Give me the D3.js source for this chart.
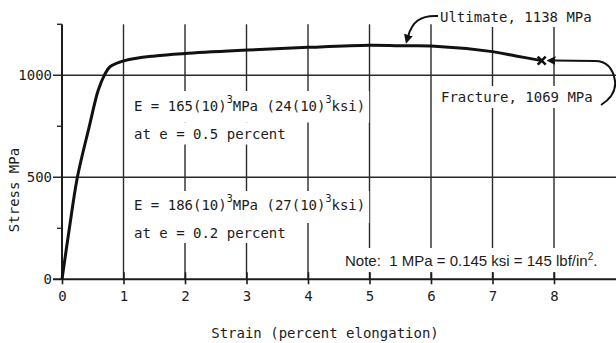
<!DOCTYPE html>
<meta charset="utf-8">
<style>
body { margin: 0; background: #fff; overflow: hidden; }
text { font-family: "DejaVu Sans Mono", monospace; font-size: 14px; fill: #1c1c1c; }
.grid { stroke: #2a2a2a; stroke-width: 1.4px; }
.axisline { stroke: #1c1c1c; stroke-width: 2px; }
.curve { fill: none; stroke: #111; stroke-width: 3px; stroke-linejoin: round; }
.note { font-family: "Liberation Sans", Arial, sans-serif; font-size: 15px; }
.arrow { fill: none; stroke: #111; stroke-width: 2px; }
</style>
<body>
<script src="https://d3js.org/d3.v7.min.js"></script>
<script>

// stress-strain curve
var strainPct = [0, 0.12, 0.25, 0.44, 0.59, 0.69, 0.78, 1.02, 1.51, 2.05, 3.02, 4.0, 5.0, 5.5, 6.0, 7.0, 7.38, 7.8];
var stressMPa = [0, 250, 500, 745, 928, 1001, 1042, 1072, 1095, 1108, 1124, 1137, 1147, 1145, 1144, 1116, 1095, 1072];

// ticks
var xTickValues = [0, 1, 2, 3, 4, 5, 6, 7, 8];
var xGridValues = [1, 2, 3, 4, 5, 6, 7, 8];
var yTickValues = [0, 500, 1000];
var yMinorTicks = [250, 750, 1250];

// annotations
var ultimatePoint = [5.6, 1145];
var ultimateLabel = "Ultimate, 1138 MPa";
var fractureLabel = "Fracture, 1069 MPa";
var upperNote = [[["E = 165(10)", 0], ["3", 1], ["MPa (24(10)", 0], ["3", 1], ["ksi)", 0]],
                 [["at e = 0.5 percent", 0]]];
var lowerNote = [[["E = 186(10)", 0], ["3", 1], ["MPa (27(10)", 0], ["3", 1], ["ksi)", 0]],
                 [["at e = 0.2 percent", 0]]];
var unitNote = [["Note:\u00a0 1 MPa = 0.145 ksi = 145 lbf/in", 0], ["2", 1], [".", 0]];

var W = 616, H = 343;

var x = d3.scaleLinear().domain([0, 9]).range([62, 615.5]);
var y = d3.scaleLinear().domain([0, 1250]).range([279.3, 24.3]);

var svg = d3.select("body").append("svg")
    .attr("width", W)
    .attr("height", H);

svg.append("defs").append("marker")
    .attr("id", "head")
    .attr("viewBox", "0 0 10 10")
    .attr("refX", 2).attr("refY", 5)
    .attr("markerWidth", 4.5).attr("markerHeight", 4.5)
    .attr("markerUnits", "strokeWidth")
    .attr("orient", "auto")
  .append("path")
    .attr("d", "M0,0 L10,5 L0,10 Z")
    .attr("fill", "#111");

// vertical grid lines
svg.append("g").selectAll("line")
    .data(xGridValues)
  .enter().append("line")
    .attr("class", "grid")
    .attr("x1", function(d) { return x(d); })
    .attr("x2", function(d) { return x(d); })
    .attr("y1", y(1250))
    .attr("y2", y(0));

// horizontal grid lines (500, 1000) and the baseline
svg.append("g").selectAll("line")
    .data(yTickValues)
  .enter().append("line")
    .attr("class", function(d) { return d === 0 ? "axisline" : "grid"; })
    .attr("x1", 53)
    .attr("x2", W)
    .attr("y1", function(d) { return y(d); })
    .attr("y2", function(d) { return y(d); });

// write a block of lines with white knock-out boxes behind them
function textBlock(lines, x0, y0, lineH, pad, cls, supSize, supRise) {
  supSize = supSize || 10;
  supRise = supRise || 8;
  var g = svg.append("g");
  var boxes = g.append("g");
  var rows = [];
  lines.forEach(function(parts, i) {
    var t = g.append("text")
        .attr("x", x0)
        .attr("y", y0 + i * lineH);
    if (cls) t.attr("class", cls);
    var up = false;
    parts.forEach(function(p) {
      var s = t.append("tspan").text(p[0]);
      if (p[1]) {
        s.style("font-size", supSize + "px");
        if (!up) { s.attr("dy", -supRise); up = true; }
      } else if (up) { s.attr("dy", supRise); up = false; }
    });
    rows.push(t.node().getBBox());
  });
  rows.forEach(function(b, i) {
    var top = b.y - pad;
    var bottom = i < rows.length - 1 ? rows[i + 1].y - pad : b.y + b.height + pad;
    boxes.append("rect")
        .attr("x", b.x - 4)
        .attr("y", top)
        .attr("width", b.width + 8)
        .attr("height", bottom - top)
        .attr("fill", "#fff");
  });
  return g;
}

textBlock(upperNote, 134, 111, 27.5, 3);
textBlock(lowerNote, 134, 210, 28, 2);
textBlock([unitNote], 345, 266, 0, 3, "note", 10, 6);
textBlock([[[fractureLabel, 0]]], 441, 102, 0, 3);
textBlock([[[ultimateLabel, 0]]], 440, 22, 0, 2);

// y axis
svg.append("line")
    .attr("class", "axisline")
    .attr("x1", x(0)).attr("x2", x(0))
    .attr("y1", y(1250)).attr("y2", y(0));

svg.append("g").selectAll("line")
    .data(yMinorTicks)
  .enter().append("line")
    .attr("class", "grid")
    .attr("x1", x(0) - 5).attr("x2", x(0))
    .attr("y1", function(d) { return y(d); })
    .attr("y2", function(d) { return y(d); });

var yAxis = svg.append("g")
    .attr("transform", "translate(" + x(0) + ",0)")
    .call(d3.axisLeft(y).tickValues(yTickValues).tickFormat(d3.format("d")).tickSize(0).tickPadding(10));
yAxis.select(".domain").remove();

// x axis
var xAxis = svg.append("g")
    .attr("transform", "translate(0," + y(0) + ")")
    .call(d3.axisBottom(x).tickValues(xTickValues).tickSizeInner(5).tickSizeOuter(0).tickPadding(7));
xAxis.select(".domain").remove();
xAxis.selectAll(".tick line")
    .attr("y1", -7)
    .attr("stroke", "#1c1c1c")
    .attr("stroke-width", 1.6);

// axis titles
svg.append("text")
    .attr("transform", "translate(18.5,190) rotate(-90)")
    .attr("text-anchor", "middle")
    .text("Stress MPa");

svg.append("text")
    .attr("x", 325)
    .attr("y", 337.5)
    .attr("text-anchor", "middle")
    .text("Strain (percent elongation)");

// the curve
var pts = strainPct.map(function(s, i) { return [s, stressMPa[i]]; });
var line = d3.line()
    .x(function(d) { return x(d[0]); })
    .y(function(d) { return y(d[1]); })
    .curve(d3.curveCatmullRom.alpha(0.5));

svg.append("path")
    .datum(pts)
    .attr("class", "curve")
    .attr("d", line);

// fracture mark
var fx = x(strainPct[strainPct.length - 1]), fy = y(stressMPa[stressMPa.length - 1]);
svg.append("path")
    .attr("d", "M" + (fx - 4) + "," + (fy - 4) + "L" + (fx + 4) + "," + (fy + 4) +
               "M" + (fx - 4) + "," + (fy + 4) + "L" + (fx + 4) + "," + (fy - 4))
    .attr("stroke", "#111")
    .attr("stroke-width", 2.6);

// arrows
var ux = x(ultimatePoint[0]), uy = y(ultimatePoint[1]);
svg.append("path")
    .attr("class", "arrow")
    .attr("marker-end", "url(#head)")
    .attr("d", "M438,16 C420,15 412,22 " + (ux + 1.5) + "," + (uy - 9));

svg.append("path")
    .attr("class", "arrow")
    .attr("marker-end", "url(#head)")
    .attr("d", "M601,105 C612,98 616,89 615,81 C613,68 606,61 595,61 L" + (fx + 12) + "," + fy);

</script>
</body>
